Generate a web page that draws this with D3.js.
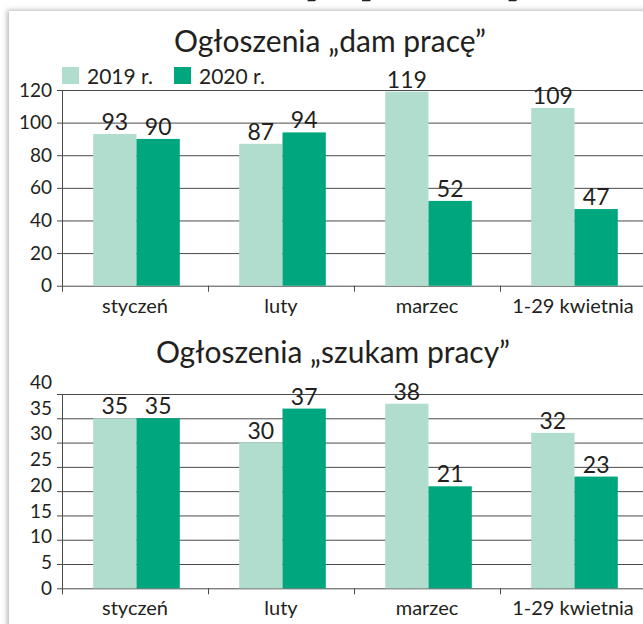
<!DOCTYPE html>
<html>
<head>
<meta charset="utf-8">
<script src="https://cdn.jsdelivr.net/npm/d3@7"></script>
<style>
body { margin: 0; background: #fff; }
svg { display: block; }
text { font-family: Lato, "Noto Sans", sans-serif; fill: #231f20; }
</style>
</head>
<body>
<div id="chart"></div>
<script>
// data
var months = ["styczeń", "luty", "marzec", "1-29 kwietnia"];
var years = ["2019 r.", "2020 r."];
var colors = ["#b1ddcf", "#00a67d"];
var offers2019 = [93, 87, 119, 109];
var offers2020 = [90, 94, 52, 47];
var seekers2019 = [35, 30, 38, 32];
var seekers2020 = [35, 37, 21, 23];
var offersTicks = [0, 20, 40, 60, 80, 100, 120];
var seekersTicks = [0, 5, 10, 15, 20, 25, 30, 35, 40];

var width = 643,
    height = 624;

var svg = d3.select("#chart").append("svg")
    .attr("width", width)
    .attr("height", height);

var defs = svg.append("defs");
var shadow = defs.append("filter")
    .attr("id", "shadow")
    .attr("x", "-5%").attr("y", "-5%")
    .attr("width", "110%").attr("height", "110%");
shadow.append("feDropShadow")
    .attr("dx", -2).attr("dy", -1)
    .attr("stdDeviation", 2.5)
    .attr("flood-color", "#888")
    .attr("flood-opacity", 0.6);

// bits of the page headline peeking above the panel
var headline = svg.append("g")
    .style("font-family", "'DejaVu Sans', sans-serif")
    .style("font-weight", "bold")
    .style("font-style", "italic")
    .style("font-size", "70px");
[["y", 304], ["p", 362], ["y", 505]].forEach(function(h) {
    headline.append("text").attr("x", h[1]).attr("y", -11).text(h[0]);
});

// panel
svg.append("rect")
    .attr("x", 9).attr("y", 11)
    .attr("width", width).attr("height", height)
    .attr("fill", "#fff")
    .attr("filter", "url(#shadow)");

var left = 62,
    right = 646,
    barW = 43.3;

var x = d3.scaleBand().domain(months).range([left, right]).paddingInner(0);
var xEdges = d3.scaleLinear().domain([0, months.length]).range([left, right]);
var xs = d3.scaleBand().domain(years).range([-barW, barW]);

function drawChart(opt) {
    var g = svg.append("g");

    var y = d3.scaleLinear().domain([0, opt.max]).range([opt.bottom, opt.top]);
    // the tick labels in the original are spread a bit wider than the grid
    var yLab = d3.scaleLinear().domain([0, opt.max]).range([opt.bottom, opt.labelTop]);

    g.append("text")
        .attr("x", opt.titleX)
        .attr("y", opt.titleY)
        .attr("text-anchor", "middle")
        .style("font-size", "30px")
        .text(opt.title);

    // grid
    g.append("g")
        .attr("transform", "translate(" + left + ",0)")
        .call(d3.axisRight(y).tickValues(opt.ticks).tickSize(width - left).tickFormat(""))
        .call(function(a) { a.select(".domain").remove(); })
        .selectAll("line").attr("stroke", "#4a4a4a");

    // y axis
    g.append("g")
        .attr("transform", "translate(" + left + ",0)")
        .call(d3.axisLeft(y).tickValues(opt.ticks).tickSize(5).tickSizeOuter(0).tickFormat(""))
        .call(function(a) {
            a.select(".domain").attr("stroke", "#4a4a4a");
            a.selectAll("line").attr("stroke", "#4a4a4a");
        });

    g.append("g")
        .attr("transform", "translate(" + left + ",0)")
        .call(d3.axisLeft(yLab).tickValues(opt.ticks).tickSize(0).tickPadding(10))
        .call(function(a) {
            a.select(".domain").remove();
            a.selectAll("text").attr("fill", "#231f20").style("font-family", "Lato, sans-serif").style("font-size", "19px");
        });

    // bars
    var series = [opt.a, opt.b];
    series.forEach(function(vals, si) {
        var bars = g.append("g");
        bars.selectAll("rect")
            .data(vals)
            .enter().append("rect")
            .attr("x", function(d, i) { return x(months[i]) + x.bandwidth() / 2 + 1.5 + xs(years[si]); })
            .attr("y", function(d) { return y(d); })
            .attr("width", xs.bandwidth())
            .attr("height", function(d) { return y(0) - y(d); })
            .attr("fill", colors[si]);
        bars.selectAll("text")
            .data(vals)
            .enter().append("text")
            .attr("x", function(d, i) { return x(months[i]) + x.bandwidth() / 2 + 1.5 + xs(years[si]) + xs.bandwidth() / 2; })
            .attr("y", function(d) { return y(d) - 4; })
            .attr("text-anchor", "middle")
            .style("font-size", "23px")
            .text(function(d) { return d; });
    });

    // x axis
    g.append("g")
        .attr("transform", "translate(0," + y(0) + ")")
        .call(d3.axisBottom(xEdges).tickValues(d3.range(0, months.length + 1)).tickSize(6).tickSizeOuter(0).tickFormat(""))
        .call(function(a) {
            a.select(".domain").remove();
            a.selectAll("line").attr("stroke", "#4a4a4a");
        });

    g.append("g")
        .attr("transform", "translate(0," + y(0) + ")")
        .call(d3.axisBottom(x).tickSize(0))
        .call(function(a) {
            a.select(".domain").remove();
            a.selectAll("text")
                .attr("y", 27).attr("dy", 0)
                .attr("fill", "#231f20")
                .style("font-family", "Lato, sans-serif")
                .style("font-size", "20px");
        });
}

drawChart({
    title: "Ogłoszenia „dam pracę”",
    titleX: 330, titleY: 52,
    max: 120, ticks: offersTicks,
    bottom: 285.7, top: 90, labelTop: 90,
    a: offers2019, b: offers2020
});

drawChart({
    title: "Ogłoszenia „szukam pracy”",
    titleX: 333, titleY: 363,
    max: 40, ticks: seekersTicks,
    bottom: 588.3, top: 394, labelTop: 382.3,
    a: seekers2019, b: seekers2020
});

// legend
var legend = svg.append("g").attr("transform", "translate(62,67)");
var item = legend.selectAll("g")
    .data(years)
    .enter().append("g")
    .attr("transform", function(d, i) { return "translate(" + (i * 112) + ",0)"; });
item.append("rect")
    .attr("width", 17).attr("height", 17)
    .attr("fill", function(d, i) { return colors[i]; });
item.append("text")
    .attr("x", 25).attr("y", 17)
    .style("font-size", "21px")
    .text(function(d) { return d; });
</script>
</body>
</html>
